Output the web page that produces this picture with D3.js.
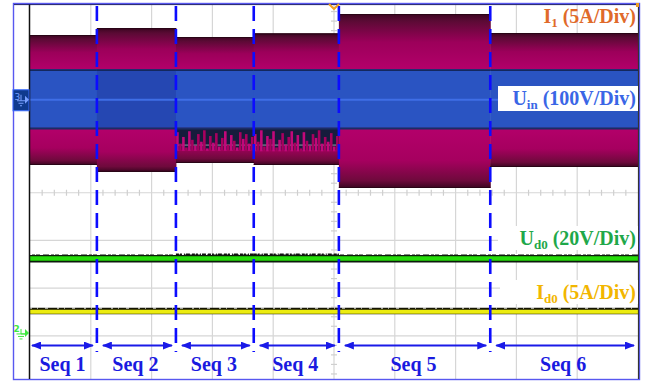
<!DOCTYPE html>
<html><head><meta charset="utf-8">
<script src="https://cdn.jsdelivr.net/npm/d3@7"></script>
<style>html,body{margin:0;padding:0;background:#fff;} svg{display:block;}</style>
</head><body><div id="chart"></div>
<script>
// Sequence names and boundaries on the time axis (divisions, 10 across the screen)
const seqNames = ["Seq 1", "Seq 2", "Seq 3", "Seq 4", "Seq 5", "Seq 6"];
const seqBounds = [0, 1.10, 2.40, 3.68, 5.08, 7.57, 10];

// I1 (5 A/div): envelope peak and trough in each sequence, amperes
const i1Peak   = [6.79, 7.52, 6.58, 6.95, 8.99, 7.00];
const i1Trough = [-6.84, -7.57, -6.63, -6.84, -9.25, -7.05];
// lower-half switching spikes in Seq 3 and Seq 4 (spike tip, amperes)
const seq3Spikes = [-3.4, -4.6, -3.9, -5.0, -3.3, -4.2, -4.8, -3.6, -4.4, -3.2, -5.1, -3.8, -4.5,
                    -3.5, -4.9, -4.0, -3.3, -4.7, -3.7, -4.3, -5.0, -3.4, -4.1, -3.6, -4.6, -3.9];
const seq4Spikes = [-3.6, -4.4, -3.2, -4.9, -3.8, -4.1, -3.3, -5.0, -4.2, -3.5, -4.7, -3.9, -3.3, -4.5,
                    -3.7, -5.1, -3.4, -4.3, -4.8, -3.6, -4.0, -3.2, -4.6, -3.9, -4.4, -3.5, -4.9, -3.8];
const i1NoiseFloor = [-5.25, -5.3];

// Uin (100 V/div): band limits, volts
const uinPeak   = [64, 64, 64, 64, 64, 64];
const uinTrough = [-59, -59, -59, -59, -59, -59];

// Ud0 (20 V/div) and Id0 (5 A/div) levels per sequence
const ud0Level = [31.2, 31.2, 31.2, 31.2, 31.2, 31.2];
const id0Level = [2.23, 2.23, 2.23, 2.23, 2.23, 2.23];

// Channel scale factors (per division) and ground offsets (divisions)
const chI1  = {perDiv: 5,   offset: 1.95};
const chUin = {perDiv: 100, offset: 1.95};
const chUd0 = {perDiv: 20,  offset: -2.94};
const chId0 = {perDiv: 5,   offset: -2.94};

const W = 649, H = 385;
const svg = d3.select("#chart").append("svg").attr("width", W).attr("height", H);
svg.append("rect").attr("width", W).attr("height", H).attr("fill", "#fff");

const x = d3.scaleLinear().domain([0, 10]).range([30, 638]);
const y = d3.scaleLinear().domain([-4, 4]).range([383.5, 2]);
const yv = (c, v) => y(c.offset + v / c.perDiv);

const defs = svg.append("defs");
defs.append("clipPath").attr("id", "plot").append("rect")
  .attr("x", 30).attr("y", 5).attr("width", 608).attr("height", 374);

const gTop = defs.append("linearGradient").attr("id", "i1top").attr("x1", 0).attr("x2", 0).attr("y1", 0).attr("y2", 1);
[[0, "#3a0520"], [0.12, "#5a0a34"], [0.5, "#9c005a"], [1, "#b4006b"]]
  .forEach(([o, c]) => gTop.append("stop").attr("offset", o).attr("stop-color", c));
const gBot = defs.append("linearGradient").attr("id", "i1bot").attr("x1", 0).attr("x2", 0).attr("y1", 0).attr("y2", 1);
[[0, "#b4006b"], [0.55, "#a6005f"], [0.88, "#6e0a3c"], [1, "#3a0520"]]
  .forEach(([o, c]) => gBot.append("stop").attr("offset", o).attr("stop-color", c));

const arrowHead = defs.append("marker").attr("id", "ah")
  .attr("viewBox", "0 0 10 8").attr("refX", 9).attr("refY", 4)
  .attr("markerWidth", 10).attr("markerHeight", 8).attr("markerUnits", "userSpaceOnUse")
  .attr("orient", "auto-start-reverse");
arrowHead.append("path").attr("d", "M0,0 L10,4 L0,8 Z").attr("fill", "#1a1ae8");

// Screen graticule
const grid = svg.append("g").attr("clip-path", "url(#plot)");
grid.selectAll("line.v").data(d3.range(1, 10)).join("line")
  .attr("x1", d => x(d)).attr("x2", d => x(d)).attr("y1", 5).attr("y2", 379)
  .attr("stroke", "#d6d6d6").attr("stroke-width", 1.2);
grid.selectAll("line.h").data(d3.range(-3, 4)).join("line")
  .attr("x1", 30).attr("x2", 638).attr("y1", d => y(d)).attr("y2", d => y(d))
  .attr("stroke", "#d6d6d6").attr("stroke-width", 1.2);
// minor ticks on the centre axes
const minorX = d3.range(0, 10.01, 0.2).filter(v => Math.abs(v % 1) > 0.01 && Math.abs(v % 1) < 0.99);
grid.selectAll("line.mx").data(minorX).join("line")
  .attr("x1", d => x(d)).attr("x2", d => x(d)).attr("y1", y(0) - 3).attr("y2", y(0) + 3)
  .attr("stroke", "#cfcfcf").attr("stroke-width", 1.2);
const minorY = d3.range(-4, 4.01, 0.2).filter(v => Math.abs(Math.abs(v) % 1) > 0.01 && Math.abs(Math.abs(v) % 1) < 0.99);
grid.selectAll("line.my").data(minorY).join("line")
  .attr("x1", x(5) - 3).attr("x2", x(5) + 3).attr("y1", d => y(d)).attr("y2", d => y(d))
  .attr("stroke", "#cfcfcf").attr("stroke-width", 1.2);

const seqs = seqNames.map((name, i) => ({
  name, i, t0: seqBounds[i], t1: seqBounds[i + 1],
  pk: i1Peak[i], tr: i1Trough[i], up: uinPeak[i], ut: uinTrough[i],
  ud: ud0Level[i], id: id0Level[i]
}));

const traces = svg.append("g").attr("clip-path", "url(#plot)");

// I1 envelope: upper and lower halves
traces.selectAll("rect.i1t").data(seqs).join("rect")
  .attr("x", d => x(d.t0)).attr("width", d => x(d.t1) - x(d.t0) + 0.5)
  .attr("y", d => yv(chI1, d.pk)).attr("height", d => yv(chUin, d.up) - yv(chI1, d.pk) + 1)
  .attr("fill", "url(#i1top)");
traces.selectAll("rect.i1b").data(seqs).join("rect")
  .attr("x", d => x(d.t0)).attr("width", d => x(d.t1) - x(d.t0) + 0.5)
  .attr("y", d => yv(chUin, d.ut) - 1).attr("height", d => yv(chI1, d.tr) - yv(chUin, d.ut) + 1)
  .attr("fill", "url(#i1bot)");
// dark envelope edges
traces.selectAll("line.i1e").data(seqs).join("line")
  .attr("x1", d => x(d.t0)).attr("x2", d => x(d.t1))
  .attr("y1", d => yv(chI1, d.pk) + 0.5).attr("y2", d => yv(chI1, d.pk) + 0.5)
  .attr("stroke", "#2a0416").attr("stroke-width", 1.2);
traces.selectAll("line.i1f").data(seqs).join("line")
  .attr("x1", d => x(d.t0)).attr("x2", d => x(d.t1))
  .attr("y1", d => yv(chI1, d.tr) - 0.5).attr("y2", d => yv(chI1, d.tr) - 0.5)
  .attr("stroke", "#2a0416").attr("stroke-width", 1.2);

// Seq 3 / Seq 4 lower half: dark gaps between switching spikes
[[seqs[2], seq3Spikes, i1NoiseFloor[0]], [seqs[3], seq4Spikes, i1NoiseFloor[1]]].forEach(([s, sp, fl]) => {
  const g = traces.append("g");
  g.append("rect")
    .attr("x", x(s.t0)).attr("width", x(s.t1) - x(s.t0))
    .attr("y", yv(chUin, s.ut)).attr("height", yv(chI1, fl) - yv(chUin, s.ut))
    .attr("fill", "#161c3c");
  g.append("line").attr("x1", x(s.t0)).attr("x2", x(s.t1))
    .attr("y1", y(1)).attr("y2", y(1)).attr("stroke", "#9a9aa8").attr("stroke-width", 1);
  const step = (s.t1 - s.t0) / sp.length;
  g.selectAll("line.sp").data(sp).join("line")
    .attr("x1", (d, k) => x(s.t0 + (k + 0.5) * step)).attr("x2", (d, k) => x(s.t0 + (k + 0.5) * step))
    .attr("y1", yv(chI1, fl) + 1).attr("y2", d => yv(chI1, d))
    .attr("stroke", (d, k) => k % 2 ? "#a8005f" : "#c2087a").attr("stroke-width", 2.6);
});

// Uin band
traces.selectAll("rect.uin").data(seqs).join("rect")
  .attr("x", d => x(d.t0)).attr("width", d => x(d.t1) - x(d.t0) + 0.5)
  .attr("y", d => yv(chUin, d.up)).attr("height", d => yv(chUin, d.ut) - yv(chUin, d.up))
  .attr("fill", d => d.i === 1 ? "#2547b2" : "#2a54c2");
traces.selectAll("line.uinT").data(seqs).join("line")
  .attr("x1", d => x(d.t0)).attr("x2", d => x(d.t1))
  .attr("y1", d => yv(chUin, d.up) + 0.8).attr("y2", d => yv(chUin, d.up) + 0.8)
  .attr("stroke", "#14285e").attr("stroke-width", 1.8);
traces.selectAll("line.uinB").data(seqs).join("line")
  .attr("x1", d => x(d.t0)).attr("x2", d => x(d.t1))
  .attr("y1", d => yv(chUin, d.ut) + 0.5).attr("y2", d => yv(chUin, d.ut) + 0.5)
  .attr("stroke", "#1a2d66").attr("stroke-width", 2);
traces.append("line").attr("x1", x(0)).attr("x2", x(10))
  .attr("y1", yv(chUin, 0)).attr("y2", yv(chUin, 0))
  .attr("stroke", "#3f6ee6").attr("stroke-width", 2);

// Ud0 trace
const lineUd = d3.line().x(d => d[0]).y(d => d[1]);
const udPts = seqs.flatMap(d => [[x(d.t0), yv(chUd0, d.ud)], [x(d.t1), yv(chUd0, d.ud)]]);
traces.append("path").attr("d", lineUd(udPts)).attr("fill", "none")
  .attr("stroke", "#0c1a0c").attr("stroke-width", 8);
traces.append("path").attr("d", lineUd(udPts.map(p => [p[0], p[1] - 4.2]))).attr("fill", "none")
  .attr("stroke", "#ffffff").attr("stroke-width", 1.2).attr("stroke-dasharray", "2,3,1,4,3,6");
traces.selectAll("line.udn").data(seqs.filter(d => d.i === 2 || d.i === 3)).join("line")
  .attr("x1", d => x(d.t0)).attr("x2", d => x(d.t1))
  .attr("y1", d => yv(chUd0, d.ud) - 4.2).attr("y2", d => yv(chUd0, d.ud) - 4.2)
  .attr("stroke", "#111").attr("stroke-width", 1.6).attr("stroke-dasharray", "3,1,2,2,1,1,4,2");
traces.append("path").attr("d", lineUd(udPts)).attr("fill", "none")
  .attr("stroke", "#26dc0a").attr("stroke-width", 4.5);

// Id0 trace
const idPts = seqs.flatMap(d => [[x(d.t0), yv(chId0, d.id)], [x(d.t1), yv(chId0, d.id)]]);
traces.append("path").attr("d", lineUd(idPts.map(p => [p[0], p[1] - 0.8]))).attr("fill", "none")
  .attr("stroke", "#151505").attr("stroke-width", 6.5);
traces.append("path").attr("d", lineUd(idPts.map(p => [p[0], p[1] - 3.6]))).attr("fill", "none")
  .attr("stroke", "#ffffff").attr("stroke-width", 1).attr("stroke-dasharray", "2,5,1,7,3,9");
traces.append("path").attr("d", lineUd(idPts)).attr("fill", "none")
  .attr("stroke", "#ecec10").attr("stroke-width", 4);

// Frame and screen border
svg.append("rect").attr("x", 13.5).attr("y", 3.5).attr("width", 626).attr("height", 376)
  .attr("fill", "none").attr("stroke", "#5858f0").attr("stroke-width", 1.4);
svg.append("line").attr("x1", 29.5).attr("x2", 29.5).attr("y1", 4).attr("y2", 379)
  .attr("stroke", "#111").attr("stroke-width", 1.5);
svg.append("line").attr("x1", 638.5).attr("x2", 638.5).attr("y1", 4).attr("y2", 379)
  .attr("stroke", "#333").attr("stroke-width", 1.2);
svg.append("line").attr("x1", 14).attr("x2", 639).attr("y1", 4.6).attr("y2", 4.6)
  .attr("stroke", "#1c1c6a").attr("stroke-width", 1);

// Sequence boundaries
svg.selectAll("line.seqb").data(seqBounds.slice(1, -1)).join("line")
  .attr("x1", d => x(d)).attr("x2", d => x(d)).attr("y1", 6).attr("y2", 352)
  .attr("stroke", "#0c0cff").attr("stroke-width", 2.6).attr("stroke-dasharray", "15,8");

// Sequence arrows and names
const arrowY = 345.5;
svg.selectAll("line.arr").data(seqs).join("line")
  .attr("x1", d => d.i === 0 ? x(d.t0) + 2 : x(d.t0) + 6).attr("x2", d => x(d.t1) - 4)
  .attr("y1", arrowY).attr("y2", arrowY)
  .attr("stroke", "#1a1ae8").attr("stroke-width", 2)
  .attr("marker-start", "url(#ah)").attr("marker-end", "url(#ah)");
svg.selectAll("text.seq").data(seqs).join("text")
  .attr("x", d => (x(d.t0) + x(d.t1)) / 2 - 1).attr("y", 371)
  .attr("text-anchor", "middle").attr("fill", "#1a1ae0")
  .attr("font-family", "Liberation Serif, Times New Roman, serif")
  .attr("font-weight", "bold").attr("font-size", 20)
  .text(d => d.name);

// Channel labels
const labels = [
  {main: "I", sub: "1", rest: " (5A/Div)", color: "#e06a2a", base: 23, box: null},
  {main: "U", sub: "in", rest: " (100V/Div)", color: "#3a66e6", base: 105, box: [498, 86, 140, 25]},
  {main: "U", sub: "d0", rest: " (20V/Div)", color: "#1fa84a", base: 245, box: [498, 226, 140, 24]},
  {main: "I", sub: "d0", rest: " (5A/Div)", color: "#f2b600", base: 299, box: [500, 280, 138, 24]}
];
labels.forEach(l => {
  if (l.box) svg.append("rect").attr("x", l.box[0]).attr("y", l.box[1])
    .attr("width", l.box[2]).attr("height", l.box[3]).attr("fill", "#fff");
  const t = svg.append("text").attr("x", 636).attr("y", l.base).attr("text-anchor", "end")
    .attr("fill", l.color).attr("font-family", "Liberation Serif, Times New Roman, serif")
    .attr("font-weight", "bold").attr("font-size", 20);
  t.append("tspan").text(l.main);
  t.append("tspan").attr("font-size", 13).attr("dy", 4).text(l.sub);
  t.append("tspan").attr("dy", -4).text(l.rest);
});

// Channel ground markers
const m3 = svg.append("g");
m3.append("rect").attr("x", 13).attr("y", yv(chUin, 0) - 10).attr("width", 16).attr("height", 21)
  .attr("fill", "#0f3a8e").attr("stroke", "#3a6cff").attr("stroke-width", 1);
m3.append("text").attr("x", 14.5).attr("y", yv(chUin, 0) + 0).attr("fill", "#7aa0ff")
  .attr("font-family", "DejaVu Sans, sans-serif").attr("font-size", 9).text("3");
m3.append("path").attr("d", `M${21},${yv(chUin, 0) - 5} v6 M17,${yv(chUin, 0) + 1} h8 M18.5,${yv(chUin, 0) + 3.5} h5 M20,${yv(chUin, 0) + 6} h2`)
  .attr("stroke", "#7aa0ff").attr("stroke-width", 1).attr("fill", "none");
m3.append("path").attr("d", `M25,${yv(chUin, 0) - 4} L29,${yv(chUin, 0)} L25,${yv(chUin, 0) + 4} Z`).attr("fill", "#7aa0ff");

const g2y = y(chUd0.offset);
const m2 = svg.append("g");
m2.append("text").attr("x", 13.5).attr("y", g2y - 0.5).attr("fill", "#3fe83f")
  .attr("font-family", "DejaVu Sans, sans-serif").attr("font-size", 9).attr("font-weight", "bold").text("2");
m2.append("path").attr("d", `M21,${g2y - 4} v5 h6 M16.5,${g2y + 1} h9 M18,${g2y + 3.5} h6 M19.5,${g2y + 6} h3`)
  .attr("stroke", "#3fe83f").attr("stroke-width", 1).attr("fill", "none");
m2.append("path").attr("d", `M25,${g2y - 4} L29,${g2y} L25,${g2y + 4} Z`).attr("fill", "#3fe83f");

// Trigger position marker
svg.append("path").attr("d", `M${x(5) - 5},4 L${x(5)},9 L${x(5) + 5},4`)
  .attr("stroke", "#f0a020").attr("stroke-width", 2).attr("fill", "none");
svg.append("rect").attr("x", 636).attr("y", 3).attr("width", 3).attr("height", 4).attr("fill", "#f0a020");
</script>
</body></html>
